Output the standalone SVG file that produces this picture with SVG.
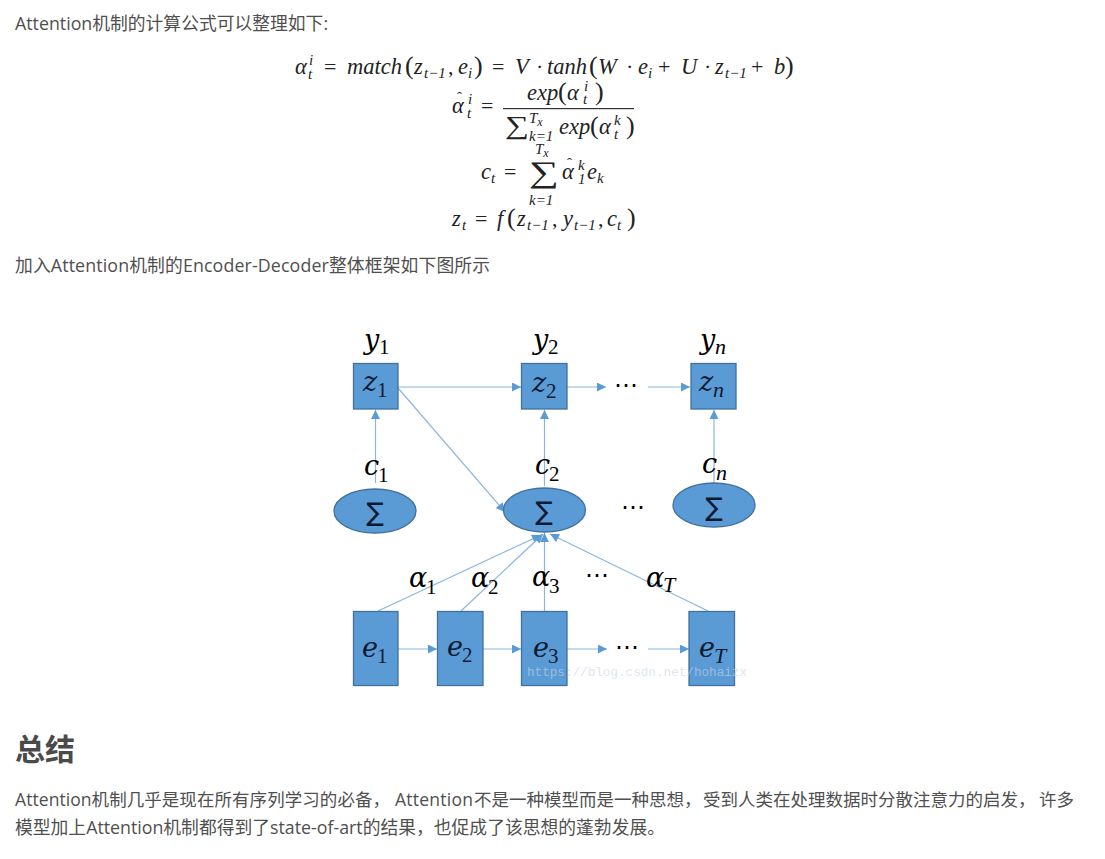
<svg xmlns="http://www.w3.org/2000/svg" width="1105" height="859" viewBox="0 0 1105 859">
<style>
.t{font-family:"Open Sans","Noto Sans CJK SC",sans-serif;font-size:17.800px;fill:#4f4f4f}
.h{font-family:"Noto Sans CJK SC",sans-serif;font-size:30px;font-weight:700;fill:#4a4a4a}
.m{font-family:"Liberation Serif",serif;font-style:italic;font-size:22.500px;fill:#222}
.u{font-family:"Liberation Serif",serif;font-style:normal;font-size:22px;fill:#222}
.p{font-family:"Liberation Serif",serif;font-style:normal;font-size:26px;fill:#222}
.s{font-size:15px}
.xs{font-size:12px}
.l{font-family:"DejaVu Serif",serif;font-style:italic;font-size:27px;fill:#0b1a33}
.l2{font-family:"DejaVu Serif",serif;font-style:italic;font-size:27px;fill:#000}
.sd{font-family:"Liberation Serif",serif;font-style:normal;font-size:21px}
.si{font-family:"Liberation Serif",serif;font-style:italic;font-size:22px}
.d{font-family:"Liberation Sans",sans-serif;font-size:24px;fill:#000}
.n{fill:#5b9bd5;stroke:#41719c;stroke-width:1.3}
.c{stroke:#8ab6de;stroke-width:1.200;fill:none;marker-end:url(#a)}
.sg{font-family:"DejaVu Sans",sans-serif;font-size:26px;fill:#0b1a33;text-anchor:middle}
</style>
<defs><marker id="a" viewBox="0 0 10 10" refX="10" refY="5" markerWidth="10" markerHeight="9" markerUnits="userSpaceOnUse" orient="auto"><path d="M0 0L10 5L0 10z" fill="#5b9bd5"/></marker></defs>
<rect width="1105" height="859" fill="#fff"/>
<text class="t" x="15" y="30">Attention机制的计算公式可以整理如下:</text>
<g id="formulas">
<text class="m" y="74"><tspan x="295">α</tspan><tspan class="s" x="309" dy="-9">i</tspan><tspan class="s" x="308" dy="14">t</tspan><tspan class="u" x="324" dy="-5">=</tspan><tspan x="347">match</tspan><tspan class="p" x="405">(</tspan><tspan x="414">z</tspan><tspan class="s" x="424" dy="4">t−1</tspan><tspan class="u" x="448" dy="-4">,</tspan><tspan x="458">e</tspan><tspan class="s" x="468" dy="4">i</tspan><tspan class="p" x="474" dy="-4">)</tspan><tspan class="u" x="492">=</tspan><tspan x="515">V</tspan><tspan class="u" x="536">·</tspan><tspan x="547">tanh</tspan><tspan class="p" x="589">(</tspan><tspan x="598">W</tspan><tspan class="u" x="626">·</tspan><tspan x="638">e</tspan><tspan class="s" x="648" dy="4">i</tspan><tspan class="u" x="658" dy="-4">+</tspan><tspan x="681">U</tspan><tspan class="u" x="704">·</tspan><tspan x="715">z</tspan><tspan class="s" x="725" dy="4">t−1</tspan><tspan class="u" x="751" dy="-4">+</tspan><tspan x="774">b</tspan><tspan class="p" x="785">)</tspan></text>
<text class="m" y="113"><tspan x="452">α</tspan><tspan class="s" x="457" y="102" style="font-style:normal">ˆ</tspan><tspan class="s" x="468" y="104">i</tspan><tspan class="s" x="467" y="118">t</tspan><tspan class="u" x="481" y="113">=</tspan></text>
<text class="m" y="100"><tspan x="527">exp</tspan><tspan class="p" x="558">(</tspan><tspan x="567">α</tspan><tspan class="s" x="584" dy="-9">i</tspan><tspan class="s" x="583" dy="13">t</tspan><tspan class="p" x="595" dy="-4">)</tspan></text>
<rect x="503" y="108" width="131" height="1.200" fill="#333"/>
<text class="u" transform="translate(505 134) scale(1.300 1)" style="font-size:26px">∑</text>
<text class="m s" x="529" y="123">T<tspan class="xs" dy="3">x</tspan></text>
<text class="m s" x="529" y="141">k=1</text>
<text class="m" y="134"><tspan x="559">exp</tspan><tspan class="p" x="590">(</tspan><tspan x="599">α</tspan><tspan class="s" x="614" dy="-9">k</tspan><tspan class="s" x="614" dy="14">t</tspan><tspan class="p" x="626" dy="-5">)</tspan></text>
<text class="m s" x="535" y="154">T<tspan class="xs" dy="3">x</tspan></text>
<text class="m" y="179"><tspan x="481">c</tspan><tspan class="s" x="491" dy="4">t</tspan><tspan class="u" x="504" dy="-4">=</tspan></text>
<text class="u" transform="translate(529 182) scale(1.400 1)" style="font-size:30px">∑</text>
<text class="m s" x="529" y="205">k=1</text>
<text class="m" y="179"><tspan x="562">α</tspan><tspan class="s" x="567" y="168" style="font-style:normal">ˆ</tspan><tspan class="s" x="578" y="170">k</tspan><tspan class="s" x="578" y="184">1</tspan><tspan x="587" y="179">e</tspan><tspan class="s" x="597" y="183">k</tspan></text>
<text class="m" y="226"><tspan x="452">z</tspan><tspan class="s" x="462" dy="4">t</tspan><tspan class="u" x="475" dy="-4">=</tspan><tspan x="497">f</tspan><tspan class="p" x="507">(</tspan><tspan x="517">z</tspan><tspan class="s" x="527" dy="4">t−1</tspan><tspan class="u" x="552" dy="-4">,</tspan><tspan x="563">y</tspan><tspan class="s" x="574" dy="4">t−1</tspan><tspan class="u" x="598" dy="-4">,</tspan><tspan x="607">c</tspan><tspan class="s" x="617" dy="4">t</tspan><tspan class="p" x="627" dy="-4">)</tspan></text>
</g>
<text class="t" x="15" y="272" textLength="475">加入Attention机制的Encoder-Decoder整体框架如下图所示</text>
<g id="connectors">
<path class="c" d="M398 387H521"/>
<path class="c" d="M398 388L505 512"/>
<path class="c" d="M567 387H606"/>
<path class="c" d="M648 387H690"/>
<path class="c" d="M375.500 483V410"/>
<path class="c" d="M544.500 486V410"/>
<path class="c" d="M714 484V410"/>
<path class="c" d="M378 611L541 535"/>
<path class="c" d="M461 611L543 534"/>
<path class="c" d="M544.500 611V533"/>
<path class="c" d="M708 611L550 534"/>
<path class="c" d="M398 649H437"/>
<path class="c" d="M483 649H521"/>
<path class="c" d="M567 649H607"/>
<path class="c" d="M648 649H689"/>
</g>
<g id="z1"><rect class="n" x="353.500" y="363.500" width="44.500" height="45.500"/><text class="l" x="363" y="391">z<tspan class="sd" x="377" dy="6">1</tspan></text></g>
<g id="z2"><rect class="n" x="521.500" y="363.500" width="45.500" height="45.500"/><text class="l" x="532" y="392">z<tspan class="sd" x="546" dy="6">2</tspan></text></g>
<g id="zn"><rect class="n" x="691" y="363.500" width="45" height="45.500"/><text class="l" x="699" y="391">z<tspan class="si" x="713" dy="6">n</tspan></text></g>
<g id="s1"><ellipse class="n" cx="375" cy="511" rx="41" ry="22"/><text class="sg" x="375" y="521">∑</text></g>
<g id="s2"><ellipse class="n" cx="544.500" cy="510" rx="41" ry="22"/><text class="sg" x="544" y="520">∑</text></g>
<g id="sn"><ellipse class="n" cx="714" cy="505" rx="41" ry="22"/><text class="sg" x="714" y="516">∑</text></g>
<g id="e1"><rect class="n" x="353.500" y="611.500" width="44.500" height="74"/><text class="l" x="362" y="657">e<tspan class="sd" x="377" dy="6">1</tspan></text></g>
<g id="e2"><rect class="n" x="437.500" y="611.500" width="45.500" height="74"/><text class="l" x="447" y="656">e<tspan class="sd" x="462" dy="6">2</tspan></text></g>
<g id="e3"><rect class="n" x="521.500" y="611.500" width="45.500" height="74"/><text class="l" x="533" y="657">e<tspan class="sd" x="548" dy="6">3</tspan></text></g>
<g id="eT"><rect class="n" x="689" y="611.500" width="45.500" height="74"/><text class="l" x="699" y="657">e<tspan class="si" x="714" dy="6">T</tspan></text></g>
<g id="labels">
<text class="l2" x="364" y="349">y<tspan class="sd" x="379" dy="5">1</tspan></text>
<text class="l2" x="533" y="349">y<tspan class="sd" x="548" dy="5">2</tspan></text>
<text class="l2" x="700" y="349">y<tspan class="si" x="715" dy="5">n</tspan></text>
<text class="l2" x="364" y="475">c<tspan class="sd" x="378" dy="7">1</tspan></text>
<text class="l2" x="535" y="474">c<tspan class="sd" x="549" dy="7">2</tspan></text>
<text class="l2" x="702" y="473">c<tspan class="si" x="716" dy="7">n</tspan></text>
<text class="l2" x="409" y="587">α<tspan class="sd" x="426" dy="7">1</tspan></text>
<text class="l2" x="471" y="587">α<tspan class="sd" x="488" dy="7">2</tspan></text>
<text class="l2" x="532" y="586">α<tspan class="sd" x="549" dy="7">3</tspan></text>
<text class="l2" x="646" y="587">α<tspan class="si" x="663" dy="5">T</tspan></text>
<text class="d" x="614" y="393">⋯</text>
<text class="d" x="621" y="515">⋯</text>
<text class="d" x="585" y="583">⋯</text>
<text class="d" x="615" y="655">⋯</text>
</g>
<text x="527" y="676" style="font-family:'Liberation Mono',monospace;font-size:12.650px;fill:#c5d4e4;fill-opacity:.6">https://blog.csdn.net/hohaizx</text>
<text class="h" x="15" y="760">总结</text>
<text class="t" y="806" style="font-size:17.500px"><tspan x="15" textLength="375">Attention机制几乎是现在所有序列学习的必备，</tspan><tspan x="395" textLength="78">Attention</tspan><tspan x="474">不是一种模型而是一种思想，</tspan><tspan x="703">受到人类在处理数据时分散注意力的启发，</tspan><tspan x="1039">许多</tspan></text>
<text class="t" x="15" y="834" textLength="650">模型加上Attention机制都得到了state-of-art的结果，也促成了该思想的蓬勃发展。</text>
</svg>
